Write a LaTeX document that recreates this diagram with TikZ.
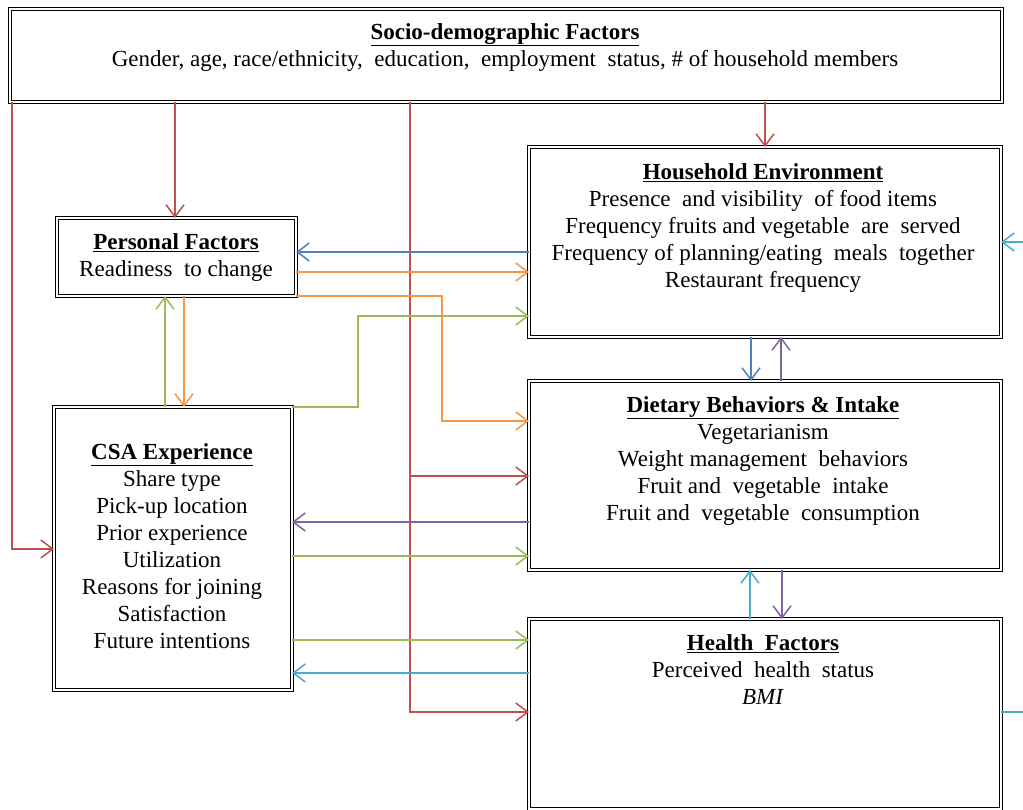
\documentclass[tikz,border=0pt]{standalone}
\usepackage{fontspec}
\setmainfont{Liberation Serif}
\usetikzlibrary{arrows.meta}
\definecolor{cred}{HTML}{C0504D}
\definecolor{cblue}{HTML}{4F81BD}
\definecolor{cpurple}{HTML}{8064A2}
\definecolor{ccyan}{HTML}{4BACC6}
\definecolor{corange}{HTML}{F79646}
\definecolor{cgreen}{HTML}{9BBB59}
\begin{document}
\begin{tikzpicture}[x=1pt,y=-1pt,
  box/.style={draw=black, double=white, line width=1.3pt, double distance=1.5pt, inner sep=0pt, outer sep=0pt, fill=white},
  txt/.style={align=center, anchor=north, inner sep=0pt, font=\fontsize{23}{27}\selectfont},
  conn/.style={line width=1.5pt, -{Straight Barb[length=12pt,width=18pt,line width=1.5pt]}},
  plain/.style={line width=1.5pt},
  ared/.style={conn, cred},
  ablue/.style={conn, cblue},
  apurple/.style={conn, cpurple},
  acyan/.style={conn, ccyan},
  aorange/.style={conn, corange},
  agreen/.style={conn, cgreen}]
\useasboundingbox (0,0) rectangle (1023,810);
\clip (0,0) rectangle (1023,810);
\fill[white] (0,0) rectangle (1023,810);

% boxes
\node[box, minimum width=992pt, minimum height=93pt] (top) at (506,55.5) {};
\node[box, minimum width=239pt, minimum height=78pt] (pf) at (176.5,257) {};
\node[box, minimum width=472pt, minimum height=190pt] (hh) at (765,242) {};
\node[box, minimum width=238pt, minimum height=283pt] (csa) at (173,548.5) {};
\node[box, minimum width=472pt, minimum height=189pt] (diet) at (765,475.5) {};
\node[box, minimum width=472pt, minimum height=190pt] (health) at (765,714) {};

% texts
\node[txt] (ttop) at (505,23) {\underline{\textbf{Socio-demographic Factors}}\\Gender, age, race/ethnicity, \ education, \ employment \ status, \# of household members};
\node[txt] (tpf) at (176,233) {\underline{\textbf{Personal Factors}}\\Readiness \ to change};
\node[txt] (thh) at (763,163) {\underline{\textbf{Household Environment}}\\Presence \ and visibility \ of food items\\Frequency fruits and vegetable \ are \ served\\Frequency of planning/eating \ meals \ together\\Restaurant frequency};
\node[txt] (tcsa) at (172,443) {\underline{\textbf{CSA Experience}}\\Share type\\Pick-up location\\Prior experience\\Utilization\\Reasons for joining\\Satisfaction\\Future intentions};
\node[txt] (tdiet) at (763,396) {\underline{\textbf{Dietary Behaviors \& Intake}}\\Vegetarianism\\Weight management \ behaviors\\Fruit and \ vegetable \ intake\\Fruit and \ vegetable \ consumption};
\node[txt] (thealth) at (763,634) {\underline{\textbf{Health \ Factors}}\\Perceived \ health \ status\\\textit{BMI}};

% free ends
\coordinate (rj) at (410,476);
\coordinate (outR) at (1023,712);
\coordinate (inR) at (1023,242);

% red
\draw[ared] (top.south -| 175,0) -- (pf.north -| 175,0);
\draw[ared] (top.south -| 12,0) |- (csa.west |- 0,549);
\draw[ared] (top.south -| 410,0) |- (health.west |- 0,712);
\draw[ared] (rj) -- (diet.west |- rj);
\draw[ared] (top.south -| 765,0) -- (hh.north -| 765,0);

% blue
\draw[ablue] (hh.west |- 0,252) -- (pf.east |- 0,252);
\draw[ablue] (hh.south -| 751,0) -- (diet.north -| 751,0);

% purple
\draw[apurple] (diet.north -| 781,0) -- (hh.south -| 781,0);
\draw[apurple] (diet.west |- 0,522) -- (csa.east |- 0,522);
\draw[apurple] (diet.south -| 782,0) -- (health.north -| 782,0);

% cyan
\draw[acyan] (health.north -| 750,0) -- (diet.south -| 750,0);
\draw[acyan] (health.west |- 0,673) -- (csa.east |- 0,673);
\draw[plain, ccyan] (health.east |- outR) -- (outR);
\draw[acyan] (inR) -- (hh.east |- inR);

% orange
\draw[aorange] (pf.east |- 0,272) -- (hh.west |- 0,272);
\draw[aorange] (pf.south east) -- (442,296) |- (diet.west |- 0,421);
\draw[aorange] (pf.south -| 184,0) -- (csa.north -| 184,0);

% green
\draw[agreen] (csa.north -| 165,0) -- (pf.south -| 165,0);
\draw[agreen] (csa.north east) -- (358,407) |- (hh.west |- 0,316);
\draw[agreen] (csa.east |- 0,556) -- (diet.west |- 0,556);
\draw[agreen] (csa.east |- 0,640) -- (health.west |- 0,640);
\end{tikzpicture}
\end{document}
